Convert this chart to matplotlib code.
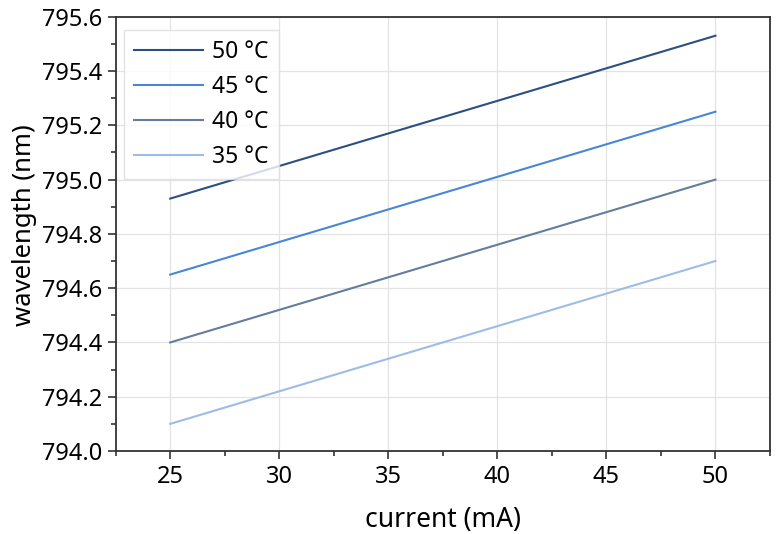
import matplotlib
matplotlib.use("Agg")
import matplotlib.pyplot as plt
from matplotlib.ticker import MultipleLocator, AutoMinorLocator

plt.rcParams['font.family'] = ['Noto Sans', 'DejaVu Sans']

current = [25, 30, 35, 40, 45, 50]
labels = ["50 °C", "45 °C", "40 °C", "35 °C"]
wl_50 = [794.93, 795.05, 795.17, 795.29, 795.41, 795.53]
wl_45 = [794.65, 794.77, 794.89, 795.01, 795.13, 795.25]
wl_40 = [794.40, 794.52, 794.64, 794.76, 794.88, 795.00]
wl_35 = [794.10, 794.22, 794.34, 794.46, 794.58, 794.70]
series = [wl_50, wl_45, wl_40, wl_35]
colors = ["#2c4f82", "#4a86d6", "#647d9c", "#9dbce6"]

fig = plt.figure(figsize=(7.78, 5.34), dpi=100)
ax = fig.add_axes([0.1487, 0.1554, 0.8410, 0.8133])

for y, c, lab in zip(series, colors, labels):
    ax.plot(current, y, color=c, lw=1.5, label=lab)

ax.set_xlim(22.5, 52.5)
ax.set_ylim(794.0, 795.6)
ax.xaxis.set_major_locator(MultipleLocator(5))
ax.xaxis.set_minor_locator(AutoMinorLocator(2))
ax.yaxis.set_major_locator(MultipleLocator(0.2))
ax.yaxis.set_minor_locator(AutoMinorLocator(2))
ax.yaxis.set_major_formatter(matplotlib.ticker.FormatStrFormatter('%.1f'))
ax.grid(True, which='major', color='#e3e3e3', lw=0.9)
ax.set_axisbelow(True)
for s in ax.spines.values():
    s.set_color('#333333')
    s.set_linewidth(1.3)
ax.tick_params(which='major', length=6, width=1.2, labelsize=17, color='#333333', direction='out', pad=4)
ax.tick_params(which='minor', length=3.5, width=1.2, color='#333333', direction='out')
ax.tick_params(top=False, right=False, which='both')

ax.set_xlabel("current (mA)", fontsize=19, labelpad=12)
ax.set_ylabel("wavelength (nm)", fontsize=18.5, labelpad=3)
ax.yaxis.label.set_y(0.52)

leg = ax.legend(loc='upper left', fontsize=16.5, frameon=True, fancybox=False,
                edgecolor='#dddddd', handlelength=3.0, labelspacing=0.48,
                borderpad=0.45, handletextpad=0.4, borderaxespad=0,
                bbox_to_anchor=(0.012, 0.97))
leg.get_frame().set_linewidth(1.0)

fig.savefig("out.png", dpi=100)
